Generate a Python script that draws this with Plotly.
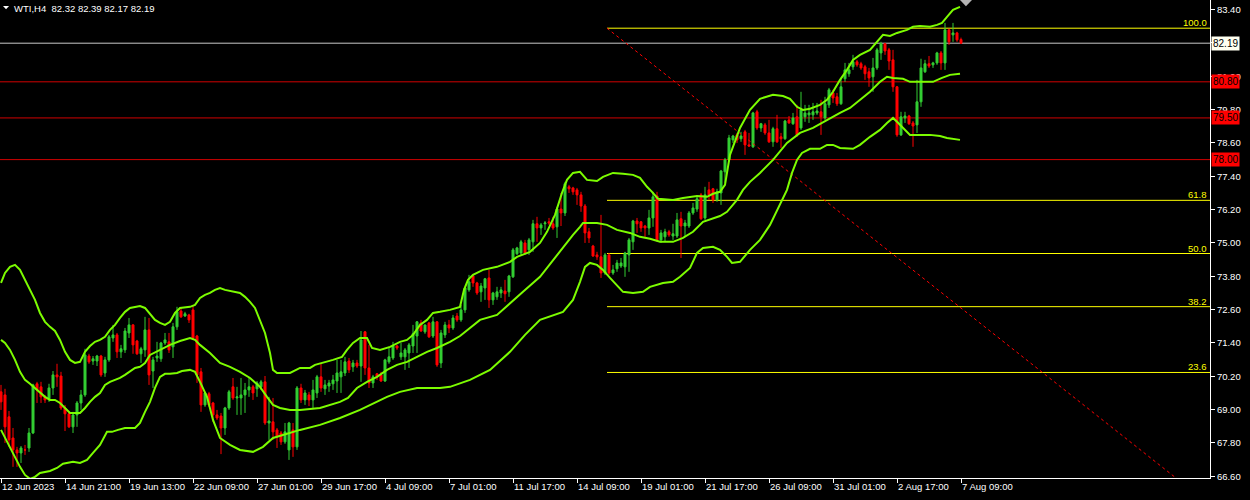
import plotly.graph_objects as go

# ---------------- data ----------------
chart_title = "WTI,H4  82.32 82.39 82.17 82.19"

open_ = [
    69.64, 69.53, 68.74, 67.98, 67.55, 67.44, 67.55, 67.62, 68.16, 69.93,
    69.82, 69.46, 69.39, 69.78, 70.25, 70.21, 69.06, 68.85, 68.38, 68.81,
    69.24, 69.53, 70.93, 70.75, 70.75, 70.93, 70.32, 70.79, 71.58, 71.69,
    71.08, 71.15, 71.76, 72.05, 71.47, 71.01, 71.15, 71.87, 70.39, 70.86,
    70.83, 71.40, 71.44, 71.26, 71.98, 72.55, 72.37, 72.41, 72.59, 71.65,
    70.36, 69.17, 69.57, 69.24, 68.81, 68.77, 68.34, 69.06, 69.82, 69.42,
    69.42, 69.53, 69.71, 69.82, 69.75, 69.82, 70.00, 68.52, 68.56, 68.27,
    68.16, 67.84, 67.55, 68.27, 67.66, 69.78, 69.35, 69.53, 69.35, 69.60,
    70.18, 69.75, 69.85, 69.93, 70.03, 70.18, 70.32, 70.75, 70.54, 70.68,
    70.57, 71.80, 70.50, 69.96, 70.29, 70.25, 70.03, 70.72, 70.86, 71.29,
    70.90, 70.90, 71.04, 71.29, 71.65, 72.12, 71.80, 72.12, 71.65, 72.16,
    70.68, 71.69, 72.05, 71.94, 72.37, 72.23, 72.59, 73.31, 73.81, 73.56,
    73.24, 73.38, 73.74, 72.95, 73.06, 73.20, 73.27, 73.24, 73.78, 74.61,
    74.64, 75.00, 74.75, 75.04, 75.69, 75.54, 75.69, 75.76, 75.69, 75.58,
    76.22, 76.08, 77.02, 76.98, 76.91, 76.73, 76.33, 75.40, 74.89, 74.57,
    74.50, 73.92, 74.57, 73.92, 74.07, 74.17, 74.14, 74.57, 75.04, 75.79,
    75.76, 75.61, 75.54, 75.90, 76.69, 75.11, 75.22, 75.40, 75.25, 75.25,
    75.87, 75.61, 75.61, 76.08, 76.22, 76.73, 75.90, 76.91, 76.95, 76.55,
    76.80, 77.56, 77.99, 78.71, 78.89, 78.75, 79.00, 78.53, 78.46, 79.72,
    79.14, 79.25, 78.96, 78.64, 79.11, 78.82, 78.75, 79.43, 79.29, 79.54,
    79.14, 79.54, 79.61, 79.61, 79.68, 79.72, 79.50, 79.97, 80.40, 80.26,
    80.01, 80.91, 81.09, 81.34, 81.52, 81.45, 81.34, 81.16, 80.98, 81.30,
    81.84, 82.17, 81.95, 81.59, 80.62, 78.89, 79.50, 79.57, 79.32, 79.25,
    80.08, 81.16, 81.45, 81.41, 81.48, 81.84, 81.48, 82.67, 82.49, 82.56,
    82.32,
]
high = [
    69.89, 69.75, 68.95, 68.34, 67.66, 67.69, 67.73, 68.34, 69.93, 70.00,
    70.00, 69.53, 69.93, 70.39, 70.65, 70.36, 69.17, 68.92, 68.92, 69.31,
    69.71, 71.19, 71.01, 70.93, 70.97, 70.97, 70.90, 71.69, 72.05, 71.76,
    71.33, 71.94, 72.30, 72.08, 71.51, 71.26, 72.34, 72.30, 70.90, 71.44,
    71.44, 71.76, 71.76, 72.12, 72.70, 72.66, 72.52, 72.45, 72.73, 71.69,
    70.50, 69.64, 69.64, 69.28, 68.99, 68.88, 69.10, 69.71, 70.14, 69.82,
    70.14, 69.96, 70.14, 69.89, 70.03, 70.07, 70.21, 69.46, 69.42, 68.34,
    68.23, 68.52, 68.56, 68.52, 69.85, 69.93, 69.71, 69.64, 70.07, 70.25,
    70.68, 70.07, 70.07, 70.25, 70.79, 70.79, 70.90, 70.86, 70.79, 70.79,
    71.83, 71.83, 71.33, 70.25, 70.32, 70.36, 70.83, 71.22, 71.44, 71.33,
    71.40, 71.22, 71.40, 72.05, 72.19, 72.23, 72.05, 72.16, 72.34, 72.19,
    71.87, 72.16, 72.23, 72.41, 72.48, 72.77, 73.42, 73.85, 73.85, 73.60,
    73.56, 73.74, 74.03, 73.24, 73.42, 73.42, 73.67, 73.85, 74.82, 74.86,
    75.11, 75.11, 75.18, 75.83, 75.94, 75.72, 75.79, 75.90, 75.94, 76.30,
    76.80, 77.20, 77.09, 77.02, 76.98, 76.84, 76.40, 75.54, 74.93, 74.68,
    76.01, 74.64, 74.64, 74.21, 74.39, 74.46, 74.68, 75.18, 75.83, 75.90,
    75.79, 75.65, 76.19, 76.84, 76.84, 75.47, 75.51, 75.47, 75.69, 76.08,
    76.12, 75.83, 76.15, 76.44, 76.66, 76.80, 77.02, 77.20, 76.98, 76.95,
    77.63, 78.06, 78.89, 78.89, 78.96, 79.00, 79.07, 78.96, 79.72, 79.79,
    79.32, 79.32, 79.43, 79.18, 79.61, 78.96, 79.43, 79.57, 79.68, 79.97,
    80.44, 79.97, 79.97, 80.04, 80.04, 80.15, 80.26, 80.58, 80.51, 80.40,
    80.94, 81.48, 81.48, 81.77, 81.59, 81.52, 81.41, 81.30, 81.66, 82.02,
    82.24, 82.20, 82.02, 81.95, 80.65, 79.72, 79.72, 79.61, 79.39, 80.87,
    81.63, 81.59, 81.73, 81.52, 81.88, 81.91, 82.92, 82.71, 82.92, 82.60,
    82.39,
]
low = [
    68.99, 67.80, 67.66, 66.94, 66.94, 67.08, 67.37, 67.48, 68.12, 69.24,
    69.24, 69.24, 69.28, 69.53, 69.82, 68.99, 68.23, 68.34, 68.16, 68.38,
    68.99, 69.46, 70.65, 70.61, 70.57, 70.18, 70.18, 70.72, 71.44, 70.86,
    70.86, 71.04, 71.58, 71.01, 70.97, 70.68, 70.90, 69.89, 69.78, 70.72,
    70.72, 71.33, 71.04, 70.86, 71.87, 72.30, 72.34, 72.12, 71.51, 69.96,
    68.92, 69.10, 69.10, 68.56, 68.63, 67.40, 68.09, 68.99, 69.35, 68.81,
    68.81, 68.88, 69.46, 69.35, 69.46, 69.71, 68.45, 67.91, 67.91, 67.62,
    67.73, 67.77, 67.19, 67.30, 67.55, 69.24, 69.17, 69.13, 69.06, 69.42,
    69.64, 69.53, 69.64, 69.71, 69.60, 69.60, 70.21, 70.32, 70.36, 70.50,
    70.00, 70.25, 69.78, 69.78, 70.07, 70.00, 70.00, 70.65, 70.79, 71.15,
    70.79, 70.43, 70.50, 71.04, 71.04, 71.80, 71.73, 71.58, 71.58, 70.54,
    70.50, 71.58, 71.76, 71.87, 72.16, 72.16, 72.48, 73.24, 73.42, 73.13,
    72.88, 72.95, 72.66, 72.77, 72.95, 73.02, 72.88, 73.06, 73.74, 74.57,
    74.57, 74.57, 74.57, 74.68, 75.04, 75.29, 75.47, 75.65, 75.47, 75.18,
    75.61, 75.97, 76.80, 76.73, 76.37, 76.12, 75.00, 75.00, 74.50, 74.39,
    73.74, 73.85, 73.85, 73.85, 73.96, 74.10, 73.78, 73.96, 74.75, 75.36,
    75.40, 75.22, 75.29, 75.58, 75.04, 75.00, 75.04, 75.22, 75.11, 75.18,
    74.46, 75.22, 75.54, 76.01, 76.12, 75.83, 75.83, 76.55, 76.44, 76.48,
    76.37, 77.16, 77.92, 78.60, 78.60, 78.64, 78.17, 78.46, 78.42, 79.07,
    79.00, 78.89, 78.60, 78.46, 78.60, 78.42, 78.71, 79.29, 79.25, 78.82,
    79.07, 79.36, 79.32, 79.43, 79.61, 78.89, 79.43, 79.86, 80.04, 79.93,
    79.97, 80.80, 80.98, 81.23, 81.34, 81.23, 80.87, 80.62, 80.44, 81.23,
    81.59, 81.77, 81.23, 80.44, 78.82, 78.85, 79.32, 79.25, 78.46, 78.96,
    79.90, 81.12, 81.30, 81.30, 81.41, 81.23, 81.23, 82.13, 82.24, 82.24,
    82.17,
]
close = [
    69.28, 68.38, 67.91, 67.55, 67.44, 67.62, 67.55, 68.16, 69.89, 69.71,
    69.46, 69.35, 69.78, 70.25, 70.18, 69.06, 68.85, 68.38, 68.81, 69.24,
    69.53, 70.97, 70.72, 70.83, 70.93, 70.25, 70.79, 71.62, 71.69, 71.08,
    71.19, 71.83, 72.05, 71.33, 71.01, 71.19, 71.87, 70.25, 70.79, 70.93,
    71.40, 71.51, 71.15, 71.98, 72.52, 72.34, 72.45, 72.23, 71.58, 70.25,
    69.17, 69.60, 69.17, 68.81, 68.70, 68.34, 69.06, 69.64, 69.42, 69.46,
    69.53, 69.71, 69.82, 69.60, 69.96, 70.00, 68.52, 68.59, 68.20, 68.02,
    67.84, 68.20, 68.52, 67.66, 69.78, 69.35, 69.60, 69.35, 69.71, 70.18,
    69.78, 69.89, 69.96, 70.07, 70.32, 70.36, 70.72, 70.43, 70.68, 70.57,
    71.51, 70.50, 69.96, 70.18, 70.18, 70.03, 70.79, 70.90, 71.29, 71.22,
    71.04, 71.15, 71.33, 71.73, 72.16, 71.83, 72.05, 71.62, 72.16, 70.61,
    71.76, 72.05, 71.94, 72.30, 72.23, 72.59, 73.38, 73.60, 73.56, 73.20,
    73.45, 73.71, 72.95, 73.20, 73.24, 73.31, 73.17, 73.81, 74.75, 74.82,
    75.04, 74.64, 75.11, 75.69, 75.54, 75.65, 75.72, 75.72, 75.54, 76.22,
    76.08, 77.13, 76.95, 76.84, 76.73, 76.33, 75.36, 75.18, 74.53, 74.50,
    73.92, 74.57, 73.92, 74.03, 74.28, 74.28, 74.64, 75.11, 75.79, 75.69,
    75.54, 75.54, 75.90, 76.66, 75.11, 75.36, 75.40, 75.29, 75.33, 75.83,
    75.61, 75.72, 76.08, 76.26, 76.59, 75.87, 76.73, 76.73, 76.55, 76.84,
    77.59, 77.99, 78.78, 78.85, 78.71, 78.85, 78.53, 78.49, 79.68, 79.14,
    79.29, 78.96, 78.64, 79.11, 78.64, 78.75, 79.39, 79.32, 79.50, 78.89,
    79.79, 79.68, 79.68, 79.72, 79.75, 79.54, 80.01, 80.51, 80.22, 80.01,
    80.62, 81.23, 81.23, 81.52, 81.41, 81.30, 81.09, 80.94, 81.30, 81.95,
    82.17, 81.91, 81.55, 80.62, 78.89, 79.54, 79.57, 79.29, 79.21, 80.08,
    81.30, 81.45, 81.37, 81.48, 81.84, 81.48, 82.67, 82.24, 82.56, 82.31,
    82.19,
]

# Bollinger bands, sampled along the bar axis
upper_bar = [0, 1, 2.25, 3.5, 4.75, 6, 7.25, 8.5, 9.75, 11, 12.25, 13.5, 14.75, 16, 17.25, 18.5,
             19.75, 21, 22.25, 23.5, 24.75, 26, 27.25, 28.5, 29.75, 31, 32.25, 33.5, 34.75, 36,
             37.25, 38.5, 39.75, 41, 42.25, 43.5, 44.75, 47.25, 48.5, 49.75, 51, 52.25, 53.5,
             54.75, 56, 57.25, 59.75, 61, 62.25, 63.5, 64.75, 66, 67.25, 68, 69, 72.25, 74.75,
             77.25, 78.5, 80.5, 83, 85.25, 86.5, 88, 89.75, 91.5, 92.75, 94.75, 97.25, 99.75,
             101.5, 103, 104.75, 106.5, 108, 109.75, 112.25, 114.75, 115.75, 116.75, 118, 120.5,
             124, 127.25, 129, 132.25, 134.75, 136.5, 138.5, 140.25, 141.5, 143, 144.75, 146.5,
             149, 150.5, 153, 155.5, 158, 159.75, 161.5, 162.75, 164.25, 168, 170.5, 174, 176.5,
             178, 179.75, 181, 182.25, 184.75, 187.25, 189.75, 193, 195.5, 197.25, 199, 200.5,
             202.25, 204.75, 206.5, 208, 209.75, 211.5, 213, 214.75, 217.25, 219, 220.5, 222.25,
             224, 226.5, 228, 229.75, 232.25, 234, 235.25, 236.5, 238, 239.75]
upper_val = [73.56, 73.92, 74.14, 74.21, 74.03, 73.67, 73.31, 72.95, 72.48, 72.16, 71.98, 71.83,
             71.51, 71.08, 70.79, 70.68, 70.72, 71.08, 71.29, 71.44, 71.51, 71.62, 71.87, 72.05,
             72.30, 72.52, 72.66, 72.70, 72.73, 72.66, 72.45, 72.23, 72.12, 72.05, 72.16, 72.48,
             72.66, 72.70, 72.77, 73.02, 73.13, 73.20, 73.31, 73.38, 73.31, 73.27, 73.20, 73.06,
             72.88, 72.66, 72.23, 71.76, 71.04, 70.43, 70.32, 70.32, 70.50, 70.50, 70.61, 70.68,
             70.79, 70.90, 71.15, 71.40, 71.58, 71.58, 71.22, 71.15, 71.26, 71.44, 71.51, 71.69,
             72.05, 72.23, 72.48, 72.52, 72.59, 72.70, 73.31, 73.67, 73.85, 74.03, 74.14, 74.32,
             74.50, 74.68, 75.00, 75.40, 76.01, 76.80, 77.27, 77.52, 77.56, 77.27, 77.23, 77.38,
             77.52, 77.49, 77.45, 77.34, 77.02, 76.84, 76.59, 76.55, 76.62, 76.69, 76.66, 76.77,
             76.84, 77.09, 78.17, 79.14, 79.79, 80.19, 80.33, 80.29, 80.19, 79.90, 79.79, 79.83,
             79.97, 80.15, 80.44, 80.87, 81.23, 81.59, 81.77, 81.95, 82.24, 82.49, 82.45, 82.56,
             82.67, 82.78, 82.81, 82.78, 82.85, 82.92, 83.14, 83.39, 83.50]

middle_bar = [0, 1, 2.25, 3.5, 4.75, 6, 7.25, 8.5, 9.75, 11, 12.25, 13.5, 14.75, 16, 17.25, 19.75,
              21, 22.25, 23.5, 24.75, 26, 27.25, 28.5, 29.75, 31, 32.25, 33.5, 34.75, 36, 37.25,
              39.75, 42.25, 44.75, 47.25, 48.5, 49.75, 52.25, 54.75, 57.25, 59.75, 62.25, 64.75,
              66.5, 68, 69.75, 72.25, 74.75, 79.75, 84.75, 86.75, 89, 91.5, 94, 96.5, 99, 101.5,
              104, 106.5, 109, 112.25, 114.75, 117.25, 119.75, 124, 127.25, 130.5, 134.75, 138,
              140.5, 143, 144.75, 145.5, 149, 151.5, 154, 157.25, 159.75, 162.25, 164.75, 168,
              170.5, 173, 175.5, 178, 179.75, 181.5, 184, 185.5, 187.25, 189.75, 193, 196.5,
              199.75, 203, 206.5, 209.75, 212.25, 214.75, 217.25, 219.75, 221.5, 223, 225.5,
              227.25, 233, 235.25, 237.25, 239.75]
middle_val = [71.51, 71.40, 71.15, 70.79, 70.36, 70.07, 69.93, 69.78, 69.64, 69.46, 69.35, 69.35,
              69.24, 69.06, 68.88, 68.88, 69.06, 69.28, 69.46, 69.60, 69.89, 70.00, 70.07, 70.14,
              70.25, 70.36, 70.50, 70.54, 70.68, 70.97, 71.15, 71.33, 71.47, 71.58, 71.51, 71.33,
              71.04, 70.68, 70.54, 70.36, 70.14, 69.82, 69.46, 69.17, 69.06, 68.99, 68.99, 69.06,
              69.28, 69.42, 69.78, 70.00, 70.18, 70.43, 70.61, 70.72, 70.90, 71.08, 71.22, 71.44,
              71.65, 71.94, 72.23, 72.41, 72.84, 73.24, 73.78, 74.39, 74.86, 75.29, 75.58, 75.72,
              75.72, 75.65, 75.47, 75.36, 75.22, 75.15, 75.04, 75.04, 75.18, 75.40, 75.76, 75.90,
              75.97, 76.12, 76.55, 76.91, 77.20, 77.52, 77.99, 78.60, 78.96, 79.14, 79.43, 79.68,
              79.86, 80.15, 80.44, 80.80, 80.98, 80.94, 80.91, 80.80, 80.80, 80.94, 81.05, 81.09]

lower_bar = [0, 2.25, 3.5, 4.75, 6, 7.25, 8.5, 9.75, 12.25, 14, 15.5, 18, 19.75, 21.5, 23, 24.75,
             26.5, 27.75, 29.25, 31, 33.5, 34.75, 36, 37.25, 38.5, 39.75, 41, 42.25, 44, 45.25,
             47.25, 48.5, 49.75, 51.5, 53, 54.75, 57.25, 59.75, 63, 65.5, 68, 70.5, 73, 74.75,
             79.75, 84.75, 89.75, 93.5, 96.5, 99.75, 104, 109.75, 112.25, 117.25, 122.25, 127.25,
             131, 134.75, 138, 140.5, 143, 144.75, 146, 147.25, 149, 150.5, 152.25, 154, 155.5,
             158, 160.5, 162.25, 165.5, 168, 169.75, 172.25, 174, 175.5, 178, 179.75, 181.5,
             182.75, 184.75, 187.25, 189.75, 192.25, 194.75, 196.5, 197.75, 199, 200.25, 202.25,
             204.75, 206.5, 208, 209.75, 213, 214.75, 217.25, 219.75, 221.5, 223, 224, 225.5,
             227.25, 232.25, 234.75, 236.5, 239.75]
lower_val = [68.27, 67.62, 67.30, 66.94, 66.65, 66.51, 66.58, 66.72, 66.79, 66.90, 67.05, 67.12,
             67.08, 67.19, 67.44, 67.73, 68.20, 68.20, 68.27, 68.34, 68.34, 68.52, 68.92, 69.28,
             69.78, 70.18, 70.29, 70.29, 70.32, 70.39, 70.43, 70.36, 70.00, 69.46, 68.63, 67.98,
             67.73, 67.55, 67.48, 67.66, 67.98, 68.09, 68.20, 68.27, 68.45, 68.70, 68.99, 69.24,
             69.46, 69.64, 69.78, 69.78, 69.82, 70.07, 70.43, 71.08, 71.69, 72.23, 72.41, 72.52,
             72.95, 73.60, 74.14, 74.28, 74.21, 74.03, 73.74, 73.49, 73.24, 73.20, 73.24, 73.42,
             73.56, 73.60, 73.78, 74.10, 74.64, 74.82, 74.86, 74.75, 74.50, 74.28, 74.32, 74.75,
             75.11, 75.65, 76.37, 76.91, 77.52, 77.99, 78.24, 78.39, 78.39, 78.53, 78.53, 78.42,
             78.39, 78.53, 78.82, 79.07, 79.32, 79.50, 79.36, 79.14, 78.89, 78.89, 78.85, 78.78,
             78.71]

# Fibonacci retracement object
fib_levels = [0.0, 23.6, 38.2, 50.0, 61.8, 100.0]
fib_high = 82.73
fib_low = 66.51
fib_start_bar = 151.5
fib_end_bar = 294.0

# horizontal price lines
bid_price = 82.19
alert_levels = [80.80, 79.50, 78.00]

# axes
time_label_bars = [0, 16, 32, 48, 64, 80, 96, 112, 128, 144, 160, 176, 192, 208, 224, 240]
time_labels = ["12 Jun 2023", "14 Jun 21:00", "19 Jun 13:00", "22 Jun 09:00", "27 Jun 01:00",
               "29 Jun 17:00", "4 Jul 09:00", "7 Jul 01:00", "11 Jul 17:00", "14 Jul 09:00",
               "19 Jul 01:00", "21 Jul 17:00", "26 Jul 09:00", "31 Jul 01:00", "2 Aug 17:00",
               "7 Aug 09:00"]
price_ticks = [66.60, 67.80, 69.00, 70.20, 71.40, 72.60, 73.80, 75.00, 76.20, 77.40, 78.60,
               79.80, 81.00, 82.20, 83.40]
# labels that sit fully under a price box are not visible in the chart
hidden_tick_labels = [82.20]
x_min, x_max = -0.25, 302.25
y_min, y_max = 66.539, 83.745

# ---------------- styling ----------------
BG = "#000000"
FG = "#ffffff"
FONT = "Liberation Sans"
BULL = "#32cd32"
BEAR = "#ff0000"
BAND = "#7cfc00"
FIBC = "#ffff00"
ALERT = "#d00000"

n = min(len(open_), len(high), len(low), len(close))
bars = list(range(n))

fig = go.Figure()

# Fibonacci trend line (red dotted diagonal)
fig.add_trace(go.Scatter(x=[fib_start_bar, fib_end_bar], y=[fib_high, fib_low], mode="lines",
                         line=dict(color="#ff0000", width=1, dash="dot"),
                         hoverinfo="skip", showlegend=False))

fig.add_trace(go.Candlestick(
    x=bars, open=open_[:n], high=high[:n], low=low[:n], close=close[:n],
    increasing=dict(line=dict(color=BULL, width=1), fillcolor=BULL),
    decreasing=dict(line=dict(color=BEAR, width=1), fillcolor=BEAR),
    whiskerwidth=0, hoverinfo="skip", showlegend=False))

for bx, by in ((upper_bar, upper_val), (middle_bar, middle_val), (lower_bar, lower_val)):
    fig.add_trace(go.Scatter(x=bx, y=by, mode="lines", line=dict(color=BAND, width=2),
                             hoverinfo="skip", showlegend=False))

shapes = []
annotations = []
for lvl in fib_levels:
    p = fib_low + (fib_high - fib_low) * lvl / 100.0
    shapes.append(dict(type="line", xref="x", yref="y", x0=fib_start_bar, x1=x_max, y0=p, y1=p,
                       line=dict(color=FIBC, width=1), layer="below"))
    annotations.append(dict(text=f"{lvl:.1f}", xref="paper", x=1, xanchor="right", xshift=-1,
                            yref="y", y=p, yanchor="bottom", yshift=-2, showarrow=False,
                            font=dict(family=FONT, size=9.5, color=FIBC)))
for p in alert_levels:
    shapes.append(dict(type="line", xref="paper", x0=0, x1=1, yref="y", y0=p, y1=p,
                       line=dict(color=ALERT, width=1), layer="below"))
    annotations.append(dict(text=f"{p:.2f}", xref="paper", x=1, xanchor="left", xshift=1,
                            yref="y", y=p, yanchor="middle", showarrow=False,
                            bgcolor="#ff0000", borderpad=1,
                            font=dict(family=FONT, size=10, color="#000000")))
shapes.append(dict(type="line", xref="paper", x0=0, x1=1, yref="y", y0=bid_price, y1=bid_price,
                   line=dict(color="#c8c8c8", width=1), layer="below"))
annotations.append(dict(text=f"{bid_price:.2f}", xref="paper", x=1, xanchor="left", xshift=1,
                        yref="y", y=bid_price, yanchor="middle", showarrow=False,
                        bgcolor="#fffff0", borderpad=1,
                        font=dict(family=FONT, size=10, color="#000000")))

# title with small triangle
shapes.append(dict(type="path", xref="paper", yref="paper",
                   path="M 0.0025,0.9874 L 0.0075,0.9874 L 0.005,0.9805 Z",
                   fillcolor=FG, line=dict(width=0), layer="above"))
annotations.append(dict(text=chart_title, xref="paper", x=0, xanchor="left", xshift=12,
                        yref="paper", y=1, yanchor="top", yshift=-1, showarrow=False,
                        font=dict(family=FONT, size=9.5, color=FG)))
# chart shift marker
shapes.append(dict(type="path", xref="paper", yref="paper",
                   path="M 0.7934,1 L 0.8033,1 L 0.7983,0.987 Z",
                   fillcolor="#b4b4b4", line=dict(width=0), layer="above"))

tick_text = ["" if v in hidden_tick_labels else f"{v:.2f}" for v in price_ticks]

fig.update_layout(
    width=1250, height=500,
    margin=dict(l=0, r=40, t=0, b=22),
    paper_bgcolor=BG, plot_bgcolor=BG,
    showlegend=False,
    boxgap=0.5, boxgroupgap=0,
    shapes=shapes, annotations=annotations,
    font=dict(family=FONT, size=10, color=FG),
    xaxis=dict(range=[x_min, x_max], showgrid=False, zeroline=False,
               rangeslider=dict(visible=False), showline=True, linecolor=FG, linewidth=1,
               tickmode="array", tickvals=time_label_bars, ticktext=time_labels,
               ticks="outside", ticklen=4, tickcolor=FG, ticklabelposition="outside right",
               tickfont=dict(family=FONT, size=9.5, color=FG), automargin=False,
               fixedrange=True),
    yaxis=dict(range=[y_min, y_max], side="right", showgrid=False, zeroline=False,
               showline=True, linecolor=FG, linewidth=1,
               tickmode="array", tickvals=price_ticks, ticktext=tick_text,
               ticks="outside", ticklen=4, tickcolor=FG,
               tickfont=dict(family=FONT, size=9.5, color=FG), automargin=False,
               fixedrange=True),
)

fig.write_html("out.html", config={"displayModeBar": False},
               post_script="document.body.style.margin='0';document.body.style.overflow='hidden';")
